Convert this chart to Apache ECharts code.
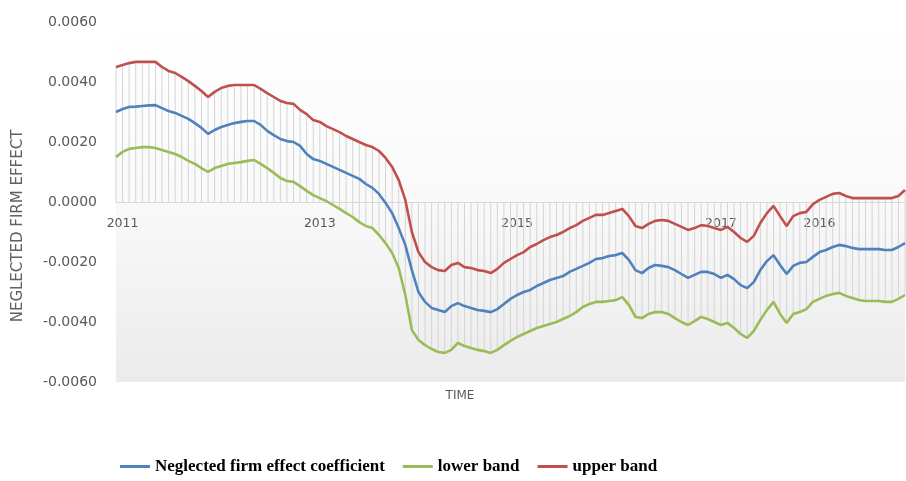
<!DOCTYPE html>
<html>
<head>
<meta charset="utf-8">
<script src="https://cdn.jsdelivr.net/npm/echarts@6/dist/echarts.min.js"></script>
<style>
  html, body { margin: 0; padding: 0; background: #ffffff; }
  #chart { width: 906px; height: 481px; }
</style>
</head>
<body>
<div id="chart"></div>
<script>
// All series values are in units of 1e-4.
const UNIT = 1e-4;

const coefficient = [
  30.0, 31.0, 31.7, 31.8, 32.0, 32.2, 32.3, 31.3, 30.3, 29.7,
  28.7, 27.7, 26.3, 24.7, 22.7, 24.0, 25.0, 25.7, 26.3, 26.7,
  27.0, 27.0, 25.7, 23.7, 22.3, 21.0, 20.3, 20.0, 18.7, 16.0,
  14.3, 13.7, 12.7, 11.7, 10.7, 9.7, 8.7, 7.7, 6.0, 4.7,
  2.7, -0.3, -3.7, -8.7, -14.3, -22.7, -30.0, -33.3, -35.3, -36.0,
  -36.7, -34.7, -33.7, -34.7, -35.3, -36.0, -36.3, -36.7, -35.7, -34.0,
  -32.3, -31.0, -30.0, -29.3, -28.0, -27.0, -26.0, -25.3, -24.7, -23.3,
  -22.3, -21.3, -20.3, -19.0, -18.7, -18.0, -17.7, -17.0, -19.3, -22.7,
  -23.7, -22.0, -21.0, -21.3, -21.7, -22.7, -24.0, -25.3, -24.3, -23.3,
  -23.3, -24.0, -25.3, -24.3, -25.7, -27.7, -28.7, -26.7, -22.7, -19.7,
  -17.7, -21.0, -24.0, -21.3, -20.3, -20.0, -18.3, -16.7, -16.0, -15.0,
  -14.3, -14.7, -15.3, -15.7, -15.7, -15.7, -15.7, -16.0, -16.0, -15.0,
  -13.7
];

const lowerBand = [
  15.0, 16.7, 17.7, 18.0, 18.3, 18.3, 18.0, 17.3, 16.7, 16.0,
  15.0, 13.7, 12.7, 11.3, 10.0, 11.3, 12.0, 12.7, 13.0, 13.3,
  13.7, 14.0, 12.7, 11.3, 9.7, 8.0, 7.0, 6.7, 5.3, 3.7,
  2.3, 1.3, 0.3, -1.0, -2.3, -3.7, -5.0, -6.7, -8.0, -8.7,
  -11.0, -13.7, -17.0, -22.0, -31.0, -42.7, -46.0, -47.7, -49.0, -50.0,
  -50.3, -49.3, -47.0, -48.0, -48.7, -49.3, -49.7, -50.3, -49.3, -47.7,
  -46.3, -45.0, -44.0, -43.0, -42.0, -41.3, -40.7, -40.0, -39.0, -38.0,
  -36.7, -35.0, -34.0, -33.3, -33.3, -33.0, -32.7, -31.7, -34.3, -38.3,
  -38.7, -37.3, -36.7, -36.7, -37.3, -38.7, -40.0, -41.0, -39.7, -38.3,
  -39.0, -40.0, -41.0, -40.3, -42.0, -44.0, -45.3, -43.0, -39.3, -36.0,
  -33.3, -37.3, -40.3, -37.3, -36.7, -35.7, -33.3, -32.3, -31.3, -30.7,
  -30.3, -31.3, -32.0, -32.7, -33.0, -33.0, -33.0, -33.3, -33.3, -32.3,
  -31.0
];

const upperBand = [
  45.0, 45.7, 46.3, 46.7, 46.7, 46.7, 46.7, 45.0, 43.7, 43.0,
  41.7, 40.3, 38.7, 37.0, 35.0, 36.7, 38.0, 38.7, 39.0, 39.0,
  39.0, 39.0, 37.7, 36.3, 35.0, 33.7, 33.0, 32.7, 30.7, 29.3,
  27.3, 26.7, 25.3, 24.3, 23.3, 22.0, 21.0, 20.0, 19.0, 18.3,
  17.0, 14.7, 11.7, 7.3, 0.7, -10.0, -16.7, -20.0, -21.7, -22.7,
  -23.0, -21.0, -20.3, -21.7, -22.0, -22.7, -23.0, -23.7, -22.3, -20.3,
  -19.0, -17.7, -16.7, -15.0, -14.0, -12.7, -11.7, -11.0, -10.0, -8.7,
  -7.7, -6.3, -5.3, -4.3, -4.3, -3.7, -3.0, -2.3, -4.7, -8.0,
  -8.7, -7.3, -6.3, -6.0, -6.3, -7.3, -8.3, -9.3, -8.7, -7.7,
  -8.0, -8.7, -9.3, -8.3, -10.0, -12.0, -13.3, -11.3, -7.0, -3.7,
  -1.3, -4.7, -8.0, -4.7, -3.7, -3.3, -0.7, 0.7, 1.7, 2.7,
  3.0, 2.0, 1.3, 1.3, 1.3, 1.3, 1.3, 1.3, 1.3, 2.0,
  4.0
];

// Year labels shown on the time axis and the period each one sits under.
const xTickLabels = ['2011', '2013', '2015', '2017', '2016'];
const xTickPeriods = [1, 31, 61, 92, 107];

const seriesNames = ['Neglected firm effect coefficient', 'lower band', 'upper band'];
const seriesColors = ['#4f81bd', '#9bbb59', '#c0504d'];

const periods = coefficient.map((_, i) => String(i + 1));
const toValue = arr => arr.map(v => +(v * UNIT).toFixed(6));

const chart = echarts.init(document.getElementById('chart'), null, { renderer: 'canvas' });

const lineSeries = [coefficient, lowerBand, upperBand].map((arr, k) => ({
  type: 'line',
  name: seriesNames[k],
  data: toValue(arr),
  symbol: 'none',
  z: 3 + k,
  lineStyle: { color: seriesColors[k], width: 2.6 },
  itemStyle: { color: seriesColors[k] }
}));

// Drop lines from the band extremes to the zero axis at every period.
const dropLines = {
  type: 'custom',
  name: 'drop lines',
  silent: true,
  z: 1,
  data: periods.map((_, i) => [i, upperBand[i] * UNIT, lowerBand[i] * UNIT]),
  encode: { x: 0, y: [1, 2] },
  renderItem: (params, api) => {
    const i = api.value(0);
    const top = api.coord([i, Math.max(api.value(1), 0)]);
    const bottom = api.coord([i, Math.min(api.value(2), 0)]);
    return {
      type: 'line',
      shape: { x1: top[0], y1: top[1], x2: bottom[0], y2: bottom[1] },
      style: { stroke: '#d4d4d4', lineWidth: 1 }
    };
  }
};

const GRID_TOP = 22;
const GRID_HEIGHT = 360;

chart.setOption({
  animation: false,
  backgroundColor: '#ffffff',
  grid: {
    left: 116, right: 1, top: GRID_TOP, height: GRID_HEIGHT,
    show: true,
    borderWidth: 0,
    backgroundColor: new echarts.graphic.LinearGradient(0, 0, 0, 1, [
      { offset: 0, color: '#ffffff' },
      { offset: 0.5, color: '#f9f9f9' },
      { offset: 1, color: '#ebebeb' }
    ])
  },
  xAxis: {
    type: 'category',
    data: periods,
    boundaryGap: false,
    // the time axis runs along the zero level, halfway up the symmetric value range
    position: 'bottom',
    offset: -GRID_HEIGHT / 2,
    axisLine: { onZero: false, lineStyle: { color: '#d9d9d9', width: 1 } },
    axisTick: { show: false },
    splitLine: { show: false },
    axisLabel: {
      interval: idx => xTickPeriods.includes(idx),
      formatter: (val, idx) => {
        const k = xTickPeriods.indexOf(idx);
        return k >= 0 ? xTickLabels[k] : '';
      },
      margin: 15,
      color: '#595959',
      fontFamily: 'DejaVu Sans',
      fontSize: 12.5
    }
  },
  yAxis: {
    type: 'value',
    min: -0.006, max: 0.006, interval: 0.002,
    axisLine: { show: false },
    axisTick: { show: false },
    splitLine: { show: false },
    axisLabel: {
      formatter: v => v.toFixed(4),
      margin: 19,
      color: '#595959',
      fontFamily: 'DejaVu Sans',
      fontSize: 14
    }
  },
  legend: {
    data: seriesNames,
    left: 115,
    top: 453,
    icon: 'rect',
    itemWidth: 30,
    itemHeight: 3,
    itemGap: 18,
    textStyle: {
      fontFamily: 'Liberation Serif',
      fontWeight: 'bold',
      fontSize: 17,
      color: '#000000'
    }
  },
  graphic: [
    {
      type: 'text',
      x: 18, y: 226,
      rotation: Math.PI / 2,
      style: {
        text: 'NEGLECTED FIRM EFFECT',
        fill: '#606060',
        font: '15px "DejaVu Sans"',
        textAlign: 'center',
        textVerticalAlign: 'middle'
      }
    },
    {
      type: 'text',
      x: 460, y: 396,
      style: {
        text: 'TIME',
        fill: '#595959',
        font: '12px "DejaVu Sans"',
        textAlign: 'center',
        textVerticalAlign: 'middle'
      }
    }
  ],
  series: [dropLines, ...lineSeries]
});
</script>
</body>
</html>
